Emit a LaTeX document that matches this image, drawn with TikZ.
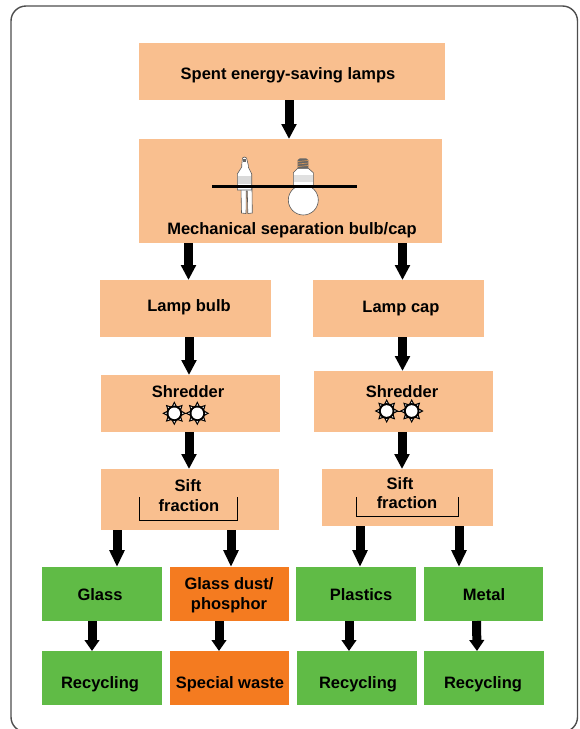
\documentclass[tikz,border=0pt]{standalone}
\usepackage{fontspec}
\setmainfont{Liberation Sans}
\usepackage{tikz}
\usetikzlibrary{arrows.meta}
\definecolor{peach}{HTML}{F9BF8F}
\definecolor{recgreen}{HTML}{60BB46}
\definecolor{wasteorange}{HTML}{F47B20}
\definecolor{framegray}{HTML}{4D4D4D}
\tikzset{
    stagebox/.style = {anchor=north west, inner sep=0, outer sep=0, fill=#1},
    boxtext/.style = {inner sep=0, outer sep=0, align=center, yshift=-1pt, text=black, font=\fontsize{16.5}{20}\selectfont\bfseries},
    blockarrow/.style = {line width=9pt, -{Triangle[width=14.5pt, length=#1]}},
    blockarrow/.default = 15pt,
    lampline/.style = {draw=black!65, line width=0.6pt, fill=white},
    gear/.pic = {
        \foreach \a in {0,45,...,315} {
            \fill [black, rotate=\a] (5,-3.6) -- (12,0) -- (5,3.6) -- cycle;
            \fill [white, rotate=\a] (7.5,-0.9) -- (9.5,0) -- (7.5,0.9) -- cycle;
        }
        \fill [black] (0,0) circle (7.8);
        \fill [white] (0,0) circle (5.8);
    }
}
\begin{document}
\begin{tikzpicture}[x=1pt, y=-1pt]
    \useasboundingbox (0, 0) rectangle (579, 729);
    \draw [framegray, line width=1.4pt, rounded corners=15] (11, 6) rectangle (577.5, 732);

    % boxes
    \node (spent) [stagebox=peach, minimum width=306, minimum height=57] at (139, 43) {};
    \node (mech) [stagebox=peach, minimum width=303, minimum height=104] at (139, 139) {};
    \node (bulb) [stagebox=peach, minimum width=171, minimum height=57] at (100, 280) {};
    \node (cap) [stagebox=peach, minimum width=171, minimum height=57] at (313, 280) {};
    \node (shredbulb) [stagebox=peach, minimum width=179, minimum height=57] at (101, 375) {};
    \node (shredcap) [stagebox=peach, minimum width=179, minimum height=61] at (314, 371) {};
    \node (siftbulb) [stagebox=peach, minimum width=178, minimum height=61] at (101, 469) {};
    \node (siftcap) [stagebox=peach, minimum width=171, minimum height=57] at (322, 469) {};
    \node (glass) [stagebox=recgreen, minimum width=120, minimum height=54] at (42, 567) {};
    \node (dust) [stagebox=wasteorange, minimum width=119, minimum height=54] at (170, 567) {};
    \node (plastics) [stagebox=recgreen, minimum width=120, minimum height=54] at (296, 567) {};
    \node (metal) [stagebox=recgreen, minimum width=119, minimum height=54] at (424, 567) {};
    \node (recglass) [stagebox=recgreen, minimum width=120, minimum height=54] at (42, 651) {};
    \node (special) [stagebox=wasteorange, minimum width=119, minimum height=54] at (170, 651) {};
    \node (recplastics) [stagebox=recgreen, minimum width=120, minimum height=54] at (297, 651) {};
    \node (recmetal) [stagebox=recgreen, minimum width=120, minimum height=54] at (424, 651) {};

    % labels
    \node (spenttext) [boxtext] at (288, 74) {Spent energy-saving lamps};
    \node (mechtext) [boxtext] at (292, 229) {Mechanical separation bulb/cap};
    \node (bulbtext) [boxtext] at (189, 306) {Lamp bulb};
    \node (captext) [boxtext] at (401, 308) {Lamp cap};
    \node (shredbulbtext) [boxtext] at (188, 391) {Shredder};
    \node (shredcaptext) [boxtext] at (402, 391) {Shredder};
    \node (siftbulbtext) [boxtext] at (188, 485) {Sift};
    \node (fracbulbtext) [boxtext] at (189, 505) {fraction};
    \node (siftcaptext) [boxtext] at (400, 483) {Sift};
    \node (fraccaptext) [boxtext] at (407, 502) {fraction};
    \node (glasstext) [boxtext] at (100, 594) {Glass};
    \node (dusttext) [boxtext] at (229, 594) {Glass dust/\\phosphor};
    \node (plasticstext) [boxtext] at (361, 594) {Plastics};
    \node (metaltext) [boxtext] at (484, 594) {Metal};
    \node (recglasstext) [boxtext] at (100, 683) {Recycling};
    \node (specialtext) [boxtext] at (230, 683) {Special waste};
    \node (recplasticstext) [boxtext] at (358, 683) {Recycling};
    \node (recmetaltext) [boxtext] at (483, 683) {Recycling};

    % arrows
    \draw [blockarrow] ([xshift=-3pt]spent.south) -- ([xshift=-1.5pt]mech.north);
    \draw [blockarrow] ([xshift=-102pt]mech.south) -- ([xshift=3pt]bulb.north);
    \draw [blockarrow] ([xshift=112pt]mech.south) -- ([xshift=4pt]cap.north);
    \draw [blockarrow] ([xshift=3.5pt]bulb.south) -- ([xshift=-1.5pt]shredbulb.north);
    \draw [blockarrow] ([xshift=4pt]cap.south) -- ([xshift=-1pt]shredcap.north);
    \draw [blockarrow] ([xshift=-1.5pt]shredbulb.south) -- ([xshift=-1pt]siftbulb.north);
    \draw [blockarrow] ([xshift=-1.5pt]shredcap.south) -- ([xshift=-5.5pt]siftcap.north);
    \draw [blockarrow=17pt] ([xshift=-73pt]siftbulb.south) -- ([xshift=15pt]glass.north);
    \draw [blockarrow=17pt] ([xshift=41pt]siftbulb.south) -- ([xshift=1.5pt]dust.north);
    \draw [blockarrow=17pt] ([xshift=-47.5pt]siftcap.south) -- ([xshift=4pt]plastics.north);
    \draw [blockarrow=17pt] ([xshift=51.5pt]siftcap.south) -- ([xshift=-24.5pt]metal.north);
    \draw [blockarrow=11pt] ([xshift=-10pt]glass.south) -- ([xshift=-10pt]recglass.north);
    \draw [blockarrow=11pt] ([xshift=-10.5pt]dust.south) -- ([xshift=-10.5pt]special.north);
    \draw [blockarrow=11pt] ([xshift=-7pt]plastics.south) -- ([xshift=-8pt]recplastics.north);
    \draw [blockarrow=11pt] ([xshift=-7pt]metal.south) -- ([xshift=-7pt]recmetal.north);

    % tube lamp
    \draw [lampline] (241, 188) -- (241.5, 213) -- (246, 213.5) -- (246.3, 191) -- (247.3, 191) -- (247.8, 213.5) -- (252.3, 213) -- (252, 188) -- cycle;
    \draw [lampline] (237.3, 190) -- (237.3, 174) -- (241.7, 167) -- (241.7, 165) -- (242.5, 158) -- (244.3, 157) -- (246.5, 158) -- (248.3, 165) -- (248.3, 167) -- (251.7, 174) -- (251.7, 190) -- cycle;
    \fill [black!15] (237.6, 176) rectangle (251.4, 184);
    \fill [black!60] (243, 158.5) rectangle (245.8, 162);
    % screw lamp
    \draw [lampline] (303.3, 200) circle (15);
    \fill [white] (295, 180) rectangle (312, 192);
    \draw [lampline] (293.3, 186) -- (293.3, 172.7) -- (297.7, 168.3) -- (308.3, 168.3) -- (313.3, 172.7) -- (313.3, 186);
    \fill [black!12] (293.6, 175) rectangle (313, 182);
    \fill [black!60] (297.7, 168.3) -- (297.7, 160) -- (300, 158.3) -- (306, 158.3) -- (308.3, 160) -- (308.3, 168.3) -- cycle;
    \foreach \y in {160.5, 163, 165.5}
        \draw [brown!70!peach, line width=0.7pt] (298, \y + 1) -- (308, \y);
    \draw [black, line width=2.7pt] (212, 186.3) -- (357, 186.3);

    % shredder wheels
    \draw [black, line width=0.9pt] (174.3, 413.3) -- (197.3, 413.3);
    \draw [black, line width=0.9pt] (386.7, 411) -- (411.7, 411);
    \pic at (174.3, 413.3) {gear};
    \pic at (197.3, 413.3) {gear};
    \pic at (386.7, 411) {gear};
    \pic at (411.7, 411) {gear};

    % sieves
    \draw [black, line width=0.9pt] (139.7, 497.3) -- (139.7, 520) -- (237.3, 520) -- (237.3, 497.3);
    \draw [black, line width=0.9pt] (356.7, 497.3) -- (356.7, 516.7) -- (458.3, 516.7) -- (458.3, 497.3);
\end{tikzpicture}
\end{document}
